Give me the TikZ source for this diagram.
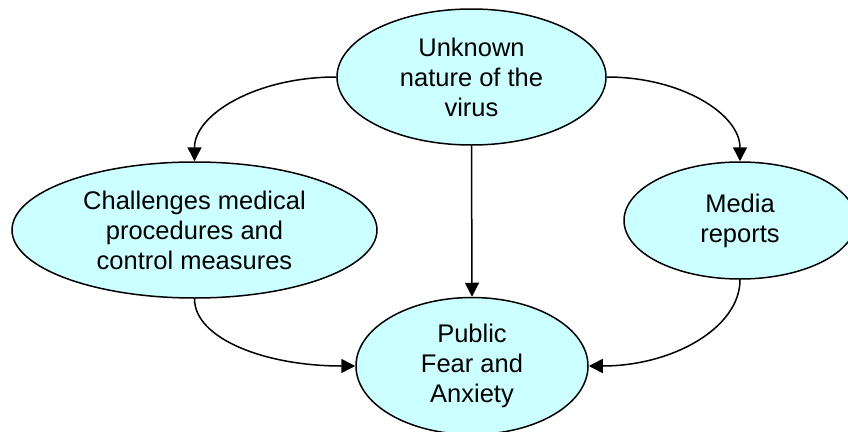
\documentclass[tikz,border=0pt]{standalone}
\usepackage{fontspec}
\setmainfont{Liberation Sans}
\usetikzlibrary{shapes.geometric,arrows.meta}
\definecolor{bubble}{HTML}{CCFFFF}
\tikzset{
  bub/.style={ellipse, draw=black, line width=1.5pt, fill=bubble, inner sep=0pt,
    align=center, font=\fontsize{25.5pt}{30pt}\selectfont},
  conn/.style={line width=1.5pt, -{Triangle[length=14pt,width=14pt]}}
}
\begin{document}
\begin{tikzpicture}[x=1pt,y=-1pt]
\useasboundingbox (0,0) rectangle (848,431);
\node[bub, minimum width=269pt, minimum height=136pt] (top) at (471.5,77) {Unknown\\nature of the\\virus};
\node[bub, minimum width=365pt, minimum height=136pt] (left) at (194.5,230) {Challenges medical\\procedures and\\control measures};
\node[bub, minimum width=232pt, minimum height=117pt] (right) at (740,220.5) {Media\\reports};
\node[bub, minimum width=232pt, minimum height=137pt] (bot) at (472,366) {Public\\Fear and\\Anxiety};
\draw[conn] (top.west) .. controls +(-80,0) and +(0,-47) .. (left.north);
\draw[conn] (top.east) .. controls +(75,0) and +(0,-47) .. (right.north);
\draw[conn] (top.south) -- (bot.north);
\draw[conn] (left.south) .. controls +(0,40) and +(-90,0) .. (bot.west);
\draw[conn] (right.south) .. controls +(0,48) and +(84,0) .. (bot.east);
\end{tikzpicture}
\end{document}
